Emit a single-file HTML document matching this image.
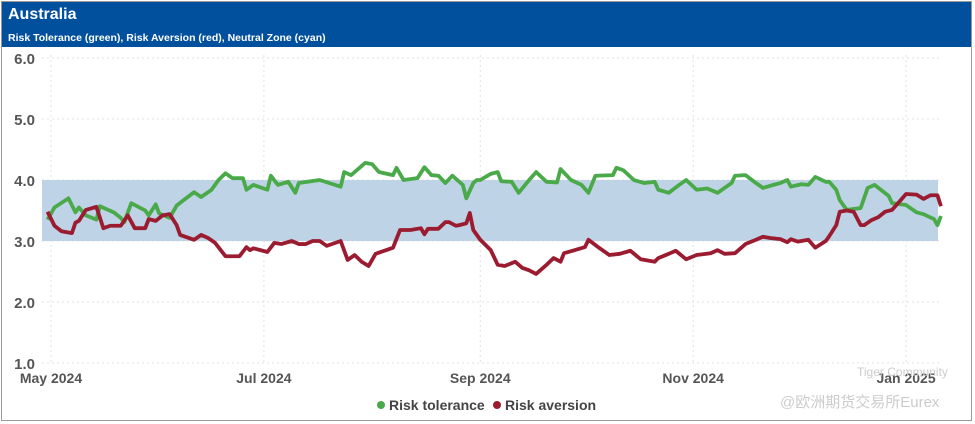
<!DOCTYPE html>
<html><head><meta charset="utf-8"><style>
body{margin:0;width:975px;height:424px;background:#fff;overflow:hidden;font-family:"Liberation Sans","Noto Sans CJK SC",sans-serif}
#frame{position:absolute;left:1px;top:1px;width:971px;height:420px;border:1px solid #9a9a9a;box-sizing:border-box}
#hdr{position:absolute;left:2px;top:2px;width:969px;height:45px;background:#00509e;color:#fff}
#t1{position:absolute;left:6px;top:4px;font-size:16px;font-weight:bold}
#t2{position:absolute;left:6px;top:30px;font-size:10.5px;font-weight:bold}
svg{position:absolute;left:0;top:0}
</style></head><body>
<div id="frame"></div>
<div id="hdr">
<div id="t1">Australia</div>
<div id="t2">Risk Tolerance (green), Risk Aversion (red), Neutral Zone (cyan)</div>
</div>
<svg id="c" width="975" height="424"></svg>
<script>
const yTicks=[1.0,2.0,3.0,4.0,5.0,6.0];
const xTickDays=[0,61,123,184,245];
const xTickLabels=["May 2024","Jul 2024","Sep 2024","Nov 2024","Jan 2025"];
const band=[3.0,4.0];
const greenDays=[-1,1,5,7,8,10,13,14,18,20,21,23,27,28,30,31,34,36,38,41,43,46,48,50,52,55,56,58,62,63,65,68,70,71,77,83,84,86,90,92,94,98,99,101,105,107,109,111,113,115,118,119,121,122,123,126,128,129,132,134,137,139,142,145,146,149,152,154,156,161,162,164,167,170,173,174,177,180,182,185,188,191,195,196,199,202,204,207,209,211,212,215,217,219,222,223,225,226,228,232,234,236,240,241,245,248,250,253,254,255];
const greenVals=[3.35,3.55,3.7,3.47,3.55,3.42,3.35,3.57,3.47,3.38,3.31,3.62,3.5,3.42,3.6,3.45,3.38,3.58,3.67,3.8,3.72,3.84,4.0,4.11,4.03,4.03,3.84,3.92,3.84,4.07,3.92,3.97,3.79,3.95,4.0,3.89,4.13,4.08,4.28,4.26,4.13,4.08,4.2,4.0,4.03,4.21,4.08,4.07,3.95,4.07,3.92,3.7,3.95,4.0,4.0,4.1,4.13,3.98,3.97,3.79,4.0,4.13,3.97,3.96,4.18,4.0,3.92,3.79,4.07,4.08,4.2,4.16,4.0,3.95,3.97,3.84,3.79,3.92,4.0,3.84,3.86,3.79,3.95,4.07,4.08,3.95,3.87,3.92,3.95,4.0,3.89,3.93,3.92,4.05,3.97,3.97,3.84,3.67,3.51,3.54,3.87,3.92,3.74,3.62,3.59,3.47,3.44,3.36,3.26,3.41];
const redDays=[-1,1,3,6,7,8,10,13,15,17,20,22,24,27,28,30,32,34,36,37,41,43,45,47,50,54,56,57,58,60,62,64,66,69,71,73,75,77,79,83,85,87,89,91,93,96,98,100,103,106,107,108,111,113,114,116,117,119,120,121,123,126,128,130,133,135,137,139,142,144,146,147,150,153,154,157,160,163,166,169,173,174,177,179,182,185,189,191,193,196,199,202,204,206,209,211,212,214,215,217,219,222,223,225,226,228,230,232,233,235,237,239,241,243,245,248,250,252,254,255];
const redVals=[3.48,3.25,3.16,3.13,3.3,3.33,3.51,3.56,3.21,3.25,3.25,3.42,3.21,3.21,3.36,3.33,3.42,3.44,3.26,3.1,3.02,3.1,3.05,2.97,2.75,2.75,2.9,2.85,2.88,2.85,2.82,2.97,2.95,3.0,2.95,2.95,3.0,3.0,2.92,3.0,2.69,2.77,2.66,2.59,2.79,2.85,2.89,3.18,3.18,3.21,3.11,3.2,3.2,3.31,3.31,3.25,3.26,3.29,3.46,3.18,3.02,2.85,2.61,2.59,2.66,2.56,2.52,2.46,2.61,2.72,2.66,2.8,2.85,2.9,3.02,2.89,2.77,2.79,2.84,2.7,2.66,2.72,2.79,2.84,2.7,2.77,2.8,2.85,2.79,2.8,2.95,3.02,3.07,3.05,3.03,2.98,3.03,2.99,3.0,3.02,2.89,3.0,3.08,3.26,3.48,3.5,3.48,3.26,3.26,3.34,3.39,3.48,3.51,3.64,3.77,3.76,3.69,3.75,3.75,3.57];
const X=d=>51+d*3.49, Y=v=>363-(v-1)*61;
const NS="http://www.w3.org/2000/svg", svg=document.getElementById('c');
function mk(t,a,txt){const e=document.createElementNS(NS,t);for(const k in a)e.setAttribute(k,a[k]);if(txt!=null)e.textContent=txt;svg.appendChild(e);return e;}
yTicks.forEach(v=>{
 const g=mk('line',{x1:42,x2:940,y1:Y(v),y2:Y(v),stroke:'#e0e0e0','stroke-dasharray':'2,3'});
 
 
 const t=mk('text',{x:35,y:Y(v)+6,'text-anchor':'end','font-size':15,'font-weight':'bold',fill:'#555'},v.toFixed(1));
 
 
});
xTickDays.forEach((d,i)=>{
 const g=mk('line',{x1:X(d),x2:X(d),y1:55,y2:365,stroke:'#e0e0e0','stroke-dasharray':'2,3'});
 
 
 const t=mk('text',{x:X(d),y:383,'text-anchor':'middle','font-size':14,'font-weight':'bold',fill:'#555'},xTickLabels[i]);
 
 
});
const b=mk('rect',{x:42,y:Y(band[1]),width:896,height:Y(band[0])-Y(band[1]),fill:'#bfd3e6'});


function line(days,vals,col,name){
 const p=mk('polyline',{points:days.map((d,i)=>X(d)+','+Y(vals[i])).join(' '),fill:'none',stroke:col,'stroke-width':3.8,'stroke-linejoin':'round'});
 
 
}
line(greenDays,greenVals,'#4aaa4a','risk-tolerance-line');
line(redDays,redVals,'#9b1b30','risk-aversion-line');
const l1=mk('circle',{cx:381,cy:405,r:4,fill:'#4aaa4a'});


const lt1=mk('text',{x:389,y:410,'font-size':14,'font-weight':'bold',fill:'#444'},'Risk tolerance');


const l2=mk('circle',{cx:497,cy:405,r:4,fill:'#9b1b30'});


const lt2=mk('text',{x:505,y:410,'font-size':14,'font-weight':'bold',fill:'#444'},'Risk aversion');


const w1=mk('text',{x:857,y:376,'font-size':12,fill:'#ccc'},'Tiger Community');


const w2=mk('text',{x:780,y:407,'font-size':15,fill:'#ccc'},'@欧洲期货交易所Eurex');


</script>
</body></html>
